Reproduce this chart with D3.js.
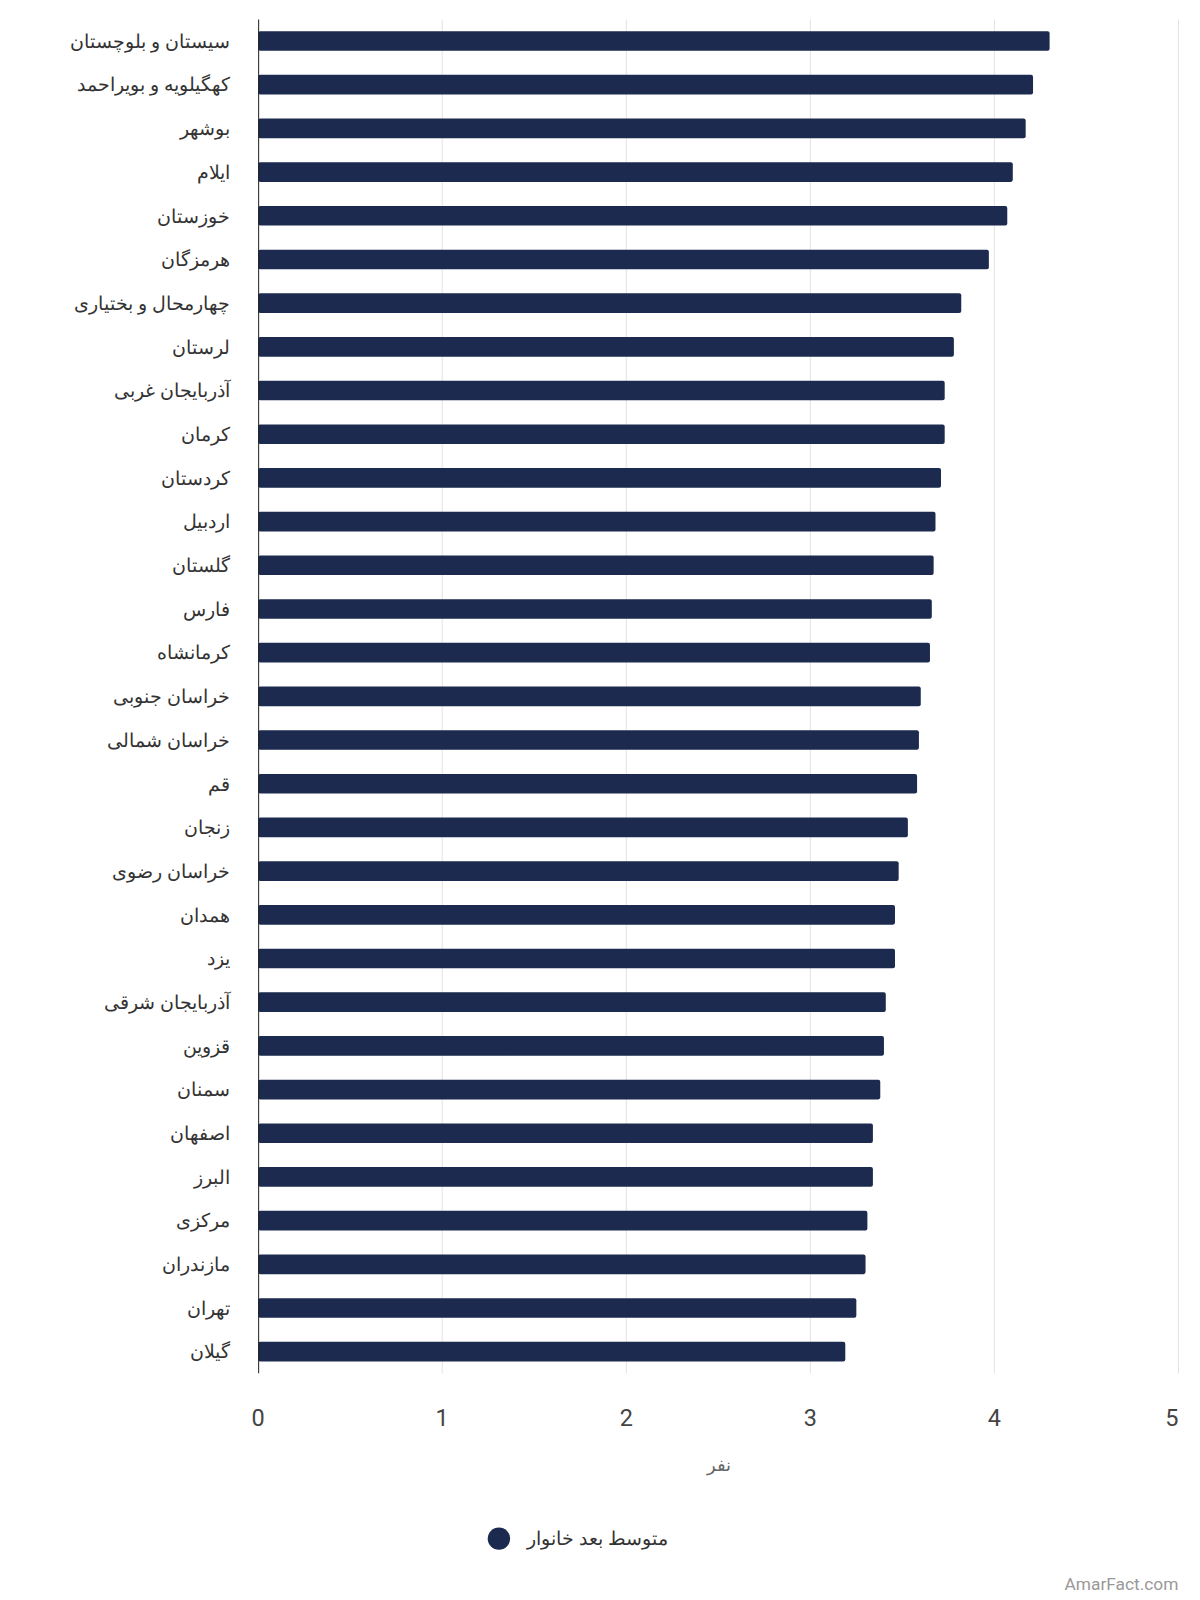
<!DOCTYPE html>
<html><head><meta charset="utf-8">
<script src="https://cdn.jsdelivr.net/npm/d3@7"></script>
<style>body{margin:0;background:#fff;font-family:Roboto,"Noto Sans",sans-serif}</style>
</head><body><svg id="c" width="1200" height="1600"></svg>
<script>
const provinces = ["سیستان و بلوچستان","کهگیلویه و بویراحمد","بوشهر","ایلام","خوزستان","هرمزگان","چهارمحال و بختیاری","لرستان","آذربایجان غربی","کرمان","کردستان","اردبیل","گلستان","فارس","کرمانشاه","خراسان جنوبی","خراسان شمالی","قم","زنجان","خراسان رضوی","همدان","یزد","آذربایجان شرقی","قزوین","سمنان","اصفهان","البرز","مرکزی","مازندران","تهران","گیلان"];
const avgSize = [4.30,4.21,4.17,4.10,4.07,3.97,3.82,3.78,3.73,3.73,3.71,3.68,3.67,3.66,3.65,3.60,3.59,3.58,3.53,3.48,3.46,3.46,3.41,3.40,3.38,3.34,3.34,3.31,3.30,3.25,3.19];
const xTicks = [0,1,2,3,4,5];
const color = "#1b2a4e";

// reference was measured at ~0.98 of the page size
const svg = d3.select("#c").append("g").attr("transform", "scale(1.0203)");
const x = d3.scaleLinear().domain([0,5]).range([253,1155]);
const y = d3.scaleBand().domain(provinces).range([19,1346]).paddingInner(0.55).paddingOuter(0.27);

svg.append("g").selectAll("line").data(xTicks.slice(1)).join("line")
  .attr("x1", d => x(d)).attr("x2", d => x(d)).attr("y1", 19).attr("y2", 1346)
  .attr("stroke", "#e3e3e3");

svg.append("g").selectAll("rect").data(provinces).join("rect")
  .attr("x", x(0)).attr("y", d => y(d))
  .attr("width", (d, i) => x(avgSize[i]) - x(0)).attr("height", y.bandwidth())
  .attr("rx", 2).attr("fill", color);

svg.append("line").attr("x1", 253.5).attr("x2", 253.5).attr("y1", 19).attr("y2", 1346).attr("stroke", "#222");

// with direction rtl, "start" anchors the right edge
svg.append("g").selectAll("text").data(provinces).join("text")
  .attr("x", 225).attr("y", d => y(d) + y.bandwidth() / 2)
  .attr("dy", "0.35em").attr("text-anchor", "start").attr("direction", "rtl")
  .attr("font-size", 19).attr("fill", "#333").text(d => d);

svg.append("g").selectAll("text").data(xTicks).join("text")
  .attr("x", d => x(d)).attr("y", 1398).attr("text-anchor", d => d === 5 ? "end" : "middle")
  .attr("font-size", 23).attr("fill", "#444").text(d => d);

svg.append("text").attr("x", 705).attr("y", 1442).attr("text-anchor", "middle")
  .attr("font-size", 18).attr("fill", "#666").text("نفر");

svg.append("circle").attr("cx", 489).attr("cy", 1508).attr("r", 11).attr("fill", color);
svg.append("text").attr("x", 517).attr("y", 1508).attr("dy", "0.35em").attr("text-anchor", "start")
  .attr("font-size", 19).attr("fill", "#333").text("متوسط بعد خانوار");

svg.append("text").attr("x", 1155).attr("y", 1558).attr("text-anchor", "end")
  .attr("font-size", 17).attr("fill", "#999").text("AmarFact.com");
</script></body></html>
